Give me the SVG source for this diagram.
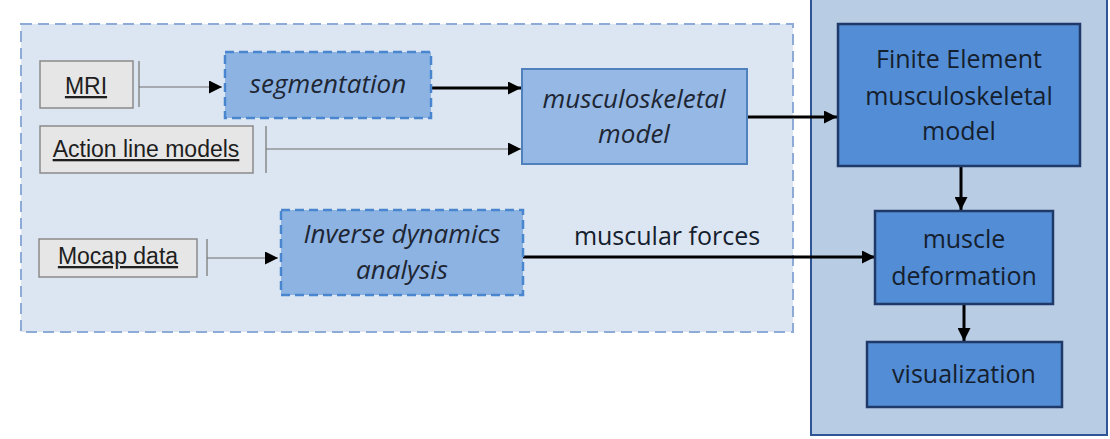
<svg xmlns="http://www.w3.org/2000/svg" width="1110" height="439" viewBox="0 0 1110 439">
  <style>
    .src rect { fill: #e6e6e6; stroke: #8a8a8a; stroke-width: 1.5; }
    .src text { font-family: "Liberation Sans", Arial, sans-serif; font-size: 23px; fill: #1e1e1e; text-anchor: middle; text-decoration: underline; }
    .proc rect { fill: #8db3e2; stroke: #4a86d0; stroke-width: 2.5; stroke-dasharray: 9 5; }
    .ital { font-family: "Open Sans", "DejaVu Sans", sans-serif; font-style: italic; font-size: 26px; fill: #1e2633; text-anchor: middle; }
    .fe rect { fill: #538dd5; stroke: #1f3a68; stroke-width: 2.5; }
    .reg { font-family: "Open Sans", "DejaVu Sans", sans-serif; font-size: 25px; fill: #15202e; text-anchor: middle; }
    .thick { stroke: #000; stroke-width: 3; fill: none; }
    .thin { stroke: #6e6e6e; stroke-width: 1.2; fill: none; }
    .tick { stroke: #8a8a8a; stroke-width: 1.5; }
  </style>
  <defs>
    <marker id="ah" viewBox="0 0 10 10" refX="10" refY="5" markerWidth="15" markerHeight="13" markerUnits="userSpaceOnUse" orient="auto">
      <path d="M0,0 L10,5 L0,10 z" fill="#000"/>
    </marker>
  </defs>

  <!-- background panels -->
  <g id="panel-left">
    <rect x="21" y="24" width="772" height="308" fill="#dce6f2" stroke="#8eaad6" stroke-width="2" stroke-dasharray="11 6"/>
  </g>
  <g id="panel-right">
    <rect x="811" y="-5" width="296" height="440" fill="#b8cce4" stroke="#2f5597" stroke-width="2"/>
  </g>

  <!-- connectors -->
  <g id="connectors">
    <line class="tick" x1="139" y1="61" x2="139" y2="107"/>
    <line class="thin" x1="139" y1="87" x2="222" y2="87" marker-end="url(#ah)"/>
    <line class="tick" x1="266" y1="126" x2="266" y2="173"/>
    <line class="thin" x1="266" y1="149" x2="521" y2="149" marker-end="url(#ah)"/>
    <line class="tick" x1="207" y1="239" x2="207" y2="276"/>
    <line class="thin" x1="207" y1="258" x2="278" y2="258" marker-end="url(#ah)"/>
    <line class="thick" x1="431" y1="88" x2="521" y2="88" marker-end="url(#ah)"/>
    <line class="thick" x1="747" y1="117" x2="837" y2="117" marker-end="url(#ah)"/>
    <line class="thick" x1="523" y1="257" x2="875" y2="257" marker-end="url(#ah)"/>
    <line class="thick" x1="961" y1="166" x2="961" y2="210" marker-end="url(#ah)"/>
    <line class="thick" x1="964" y1="304" x2="964" y2="341" marker-end="url(#ah)"/>
    <text class="reg" x="667" y="245">muscular forces</text>
  </g>

  <g id="mri" class="src">
    <rect x="40" y="61" width="93" height="47"/>
    <text x="86" y="94">MRI</text>
  </g>
  <g id="action-line-models" class="src">
    <rect x="40" y="126" width="213" height="47"/>
    <text x="146" y="157">Action line models</text>
  </g>
  <g id="mocap-data" class="src">
    <rect x="39" y="239" width="158" height="38"/>
    <text x="118" y="264">Mocap data</text>
  </g>

  <g id="segmentation" class="proc">
    <rect x="225" y="52" width="206" height="66"/>
    <text class="ital" x="328" y="93">segmentation</text>
  </g>
  <g id="inverse-dynamics" class="proc">
    <rect x="281" y="210" width="242" height="85"/>
    <text class="ital" x="402" y="243">Inverse dynamics</text>
    <text class="ital" x="402" y="279">analysis</text>
  </g>

  <g id="musculoskeletal-model">
    <rect x="522" y="69" width="225" height="95" fill="#95b8e4" stroke="#4f81bd" stroke-width="2"/>
    <text class="ital" x="634" y="108">musculoskeletal</text>
    <text class="ital" x="634" y="143">model</text>
  </g>

  <g id="fe-model" class="fe">
    <rect x="838" y="24" width="242" height="142"/>
    <text class="reg" x="959" y="68">Finite Element</text>
    <text class="reg" x="959" y="105">musculoskeletal</text>
    <text class="reg" x="959" y="140">model</text>
  </g>
  <g id="muscle-deformation" class="fe">
    <rect x="875" y="211" width="178" height="93"/>
    <text class="reg" x="964" y="248">muscle</text>
    <text class="reg" x="964" y="285">deformation</text>
  </g>
  <g id="visualization" class="fe">
    <rect x="867" y="342" width="195" height="65"/>
    <text class="reg" x="964" y="383">visualization</text>
  </g>
</svg>
